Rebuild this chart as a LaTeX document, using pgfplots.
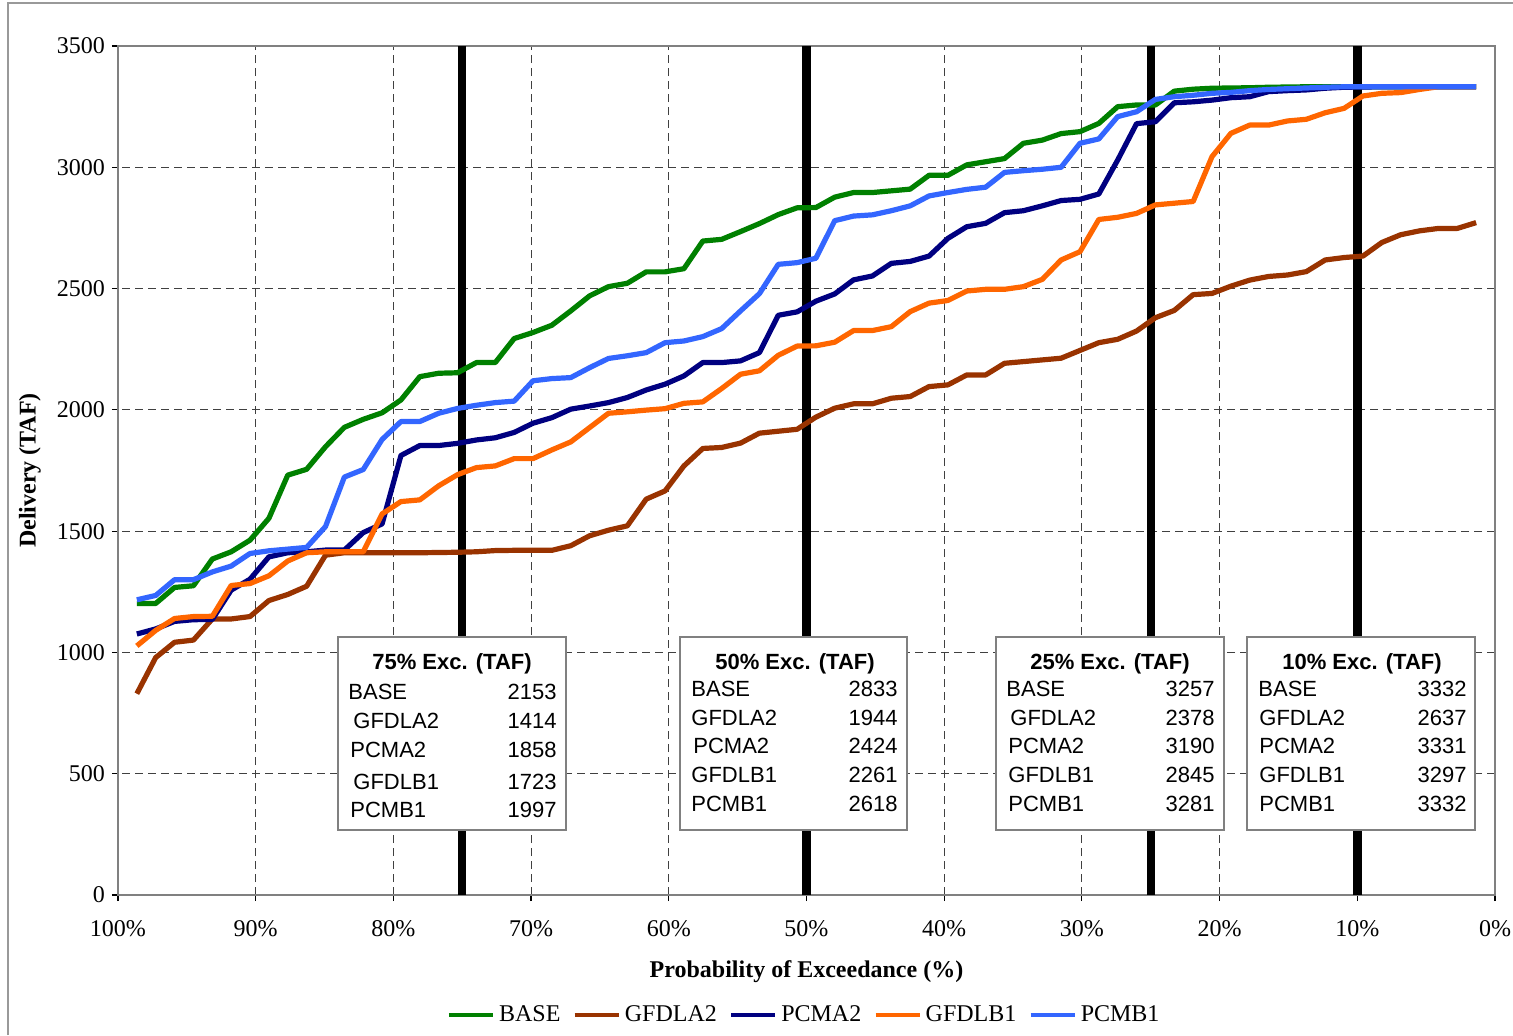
\documentclass[border=0pt]{standalone}
\usepackage{fontspec}
\setmainfont{Liberation Serif}
\newfontfamily\arial{Liberation Sans}
\usepackage{pgfplots}
\usepackage{pgfplotstable}
\pgfplotsset{compat=1.18}
\definecolor{cBase}{HTML}{008000}
\definecolor{cGA}{HTML}{993300}
\definecolor{cPA}{HTML}{000080}
\definecolor{cGB}{HTML}{FF6600}
\definecolor{cPB}{HTML}{3366FF}

\pgfplotstableread{
p base gfdla2 pcma2 gfdlb1 pcmb1
98.63 1202 830 1076 1027 1217
97.26 1202 979 1097 1091 1235
95.89 1268 1042 1128 1140 1300
94.52 1275 1051 1135 1148 1300
93.15 1385 1138 1136 1149 1332
91.78 1415 1138 1257 1276 1356
90.41 1463 1148 1302 1284 1408
89.04 1553 1214 1394 1316 1419
87.67 1731 1239 1411 1377 1426
86.30 1755 1273 1415 1411 1433
84.93 1848 1401 1422 1415 1519
83.56 1928 1411 1422 1415 1723
82.19 1961 1411 1494 1415 1754
80.82 1988 1411 1530 1571 1878
79.45 2041 1411 1812 1622 1952
78.08 2137 1411 1853 1629 1952
76.71 2151 1412 1853 1687 1986
75.34 2153 1413 1862 1733 2006
73.97 2195 1415 1876 1762 2019
72.60 2195 1420 1885 1769 2030
71.23 2294 1421 1907 1799 2036
69.86 2319 1421 1945 1799 2120
68.49 2349 1421 1968 1835 2129
67.12 2408 1440 2003 1868 2133
65.75 2470 1481 2016 1927 2174
64.38 2508 1504 2030 1986 2212
63.01 2522 1522 2051 1992 2223
61.64 2569 1632 2082 1999 2236
60.27 2569 1666 2106 2005 2277
58.90 2582 1769 2140 2027 2284
57.53 2696 1841 2195 2033 2302
56.16 2703 1845 2195 2088 2335
54.79 2735 1863 2202 2147 2408
53.42 2768 1904 2236 2161 2479
52.05 2805 1912 2390 2225 2600
50.68 2833 1920 2404 2263 2607
49.32 2834 1970 2448 2264 2625
47.95 2877 2007 2478 2279 2780
46.58 2896 2025 2536 2327 2799
45.21 2896 2025 2552 2327 2804
43.84 2903 2048 2604 2343 2821
42.47 2910 2055 2612 2405 2841
41.10 2967 2096 2634 2440 2882
39.73 2967 2103 2707 2451 2896
38.36 3010 2144 2755 2490 2909
36.99 3023 2144 2769 2497 2918
35.62 3036 2192 2813 2497 2979
34.25 3099 2199 2821 2508 2986
32.88 3112 2206 2841 2538 2992
31.51 3139 2213 2863 2618 3000
30.14 3147 2245 2868 2652 3099
28.77 3181 2277 2890 2785 3117
27.40 3250 2291 3030 2794 3209
26.03 3257 2325 3180 2810 3229
24.66 3257 2380 3188 2845 3280
23.29 3314 2410 3266 2852 3291
21.92 3322 2475 3270 2859 3297
20.55 3326 2480 3277 3044 3305
19.18 3327 2510 3287 3140 3309
17.81 3328 2535 3291 3174 3316
16.44 3330 2550 3312 3174 3321
15.07 3331 2556 3316 3191 3324
13.70 3332 2570 3319 3198 3327
12.33 3332 2618 3326 3225 3330
10.96 3332 2628 3330 3243 3332
9.59 3332 2634 3331 3294 3332
8.22 3332 2690 3332 3305 3332
6.85 3332 2722 3332 3308 3332
5.48 3332 2738 3332 3321 3332
4.11 3332 2748 3332 3332 3332
2.74 3332 2748 3332 3332 3332
1.37 3332 2772 3332 3332 3332
}\datatab

\newcommand\excrow[5]{%
  \node[anchor=base west] at (#1,#3) {#4};
  \node[anchor=base east] at (#2,#3) {#5};}

\begin{document}
\begin{tikzpicture}
\useasboundingbox (0pt,0pt) rectangle (756.5pt,-517.5pt);
\begin{axis}[
  at={(59pt,-447.5pt)}, anchor=south west,
  width=688.5pt, height=424.5pt, scale only axis,
  xmin=0, xmax=100, x dir=reverse, ymin=0, ymax=3500,
  xtick={0,10,...,100},
  xticklabels={0\%,10\%,20\%,30\%,40\%,50\%,60\%,70\%,80\%,90\%,100\%},
  ytick={0,500,...,3500},
  /pgf/number format/assume math mode=true,
  /pgf/number format/1000 sep={},
  grid=major,
  major grid style={black!75, dash pattern=on 4pt off 2.5pt, line width=0.5pt},
  tick align=outside, tick pos=left, major tick length=3pt,
  axis line style={gray, line width=0.8pt},
  tick style={black, line width=0.6pt},
  ticklabel style={font=\fontsize{12}{14}\selectfont},
  xticklabel style={yshift=-6pt},
  xlabel={\textbf{Probability of Exceedance (\%)}},
  ylabel={\textbf{Delivery (TAF)}},
  label style={font=\fontsize{12}{14}\selectfont},
  xlabel style={at={(axis description cs:0.5,-0.0907)}, anchor=center},
  ylabel style={at={(axis description cs:-0.0639,0.5)}, anchor=center, rotate=0},
  legend style={at={(0.499,-0.141)}, anchor=center, draw=none, fill=none,
    legend columns=5, font=\fontsize{12}{14}\selectfont,
    /tikz/every even column/.append style={column sep=4pt}},
  legend image code/.code={\draw[#1, line width=2.2pt] (0pt,0pt) -- (22pt,0pt);},
  every axis plot/.append style={line width=2.6pt, line join=round, no markers},
]
\addplot[black, line width=4.2pt, forget plot] coordinates {(75,0) (75,3500)};
\addplot[black, line width=4.2pt, forget plot] coordinates {(50,0) (50,3500)};
\addplot[black, line width=4.2pt, forget plot] coordinates {(25,0) (25,3500)};
\addplot[black, line width=4.2pt, forget plot] coordinates {(10,0) (10,3500)};
\addplot[cBase] table[x=p, y=base] {\datatab};
\addlegendentry{BASE}
\addplot[cGA] table[x=p, y=gfdla2] {\datatab};
\addlegendentry{GFDLA2}
\addplot[cPA] table[x=p, y=pcma2] {\datatab};
\addlegendentry{PCMA2}
\addplot[cGB] table[x=p, y=gfdlb1] {\datatab};
\addlegendentry{GFDLB1}
\addplot[cPB] table[x=p, y=pcmb1] {\datatab};
\addlegendentry{PCMB1}
\end{axis}
\begin{scope}[x=0.5pt, y=-0.5pt, every node/.style={inner sep=0pt, font=\arial\fontsize{11}{13}\selectfont}]
\draw[gray!80, line width=0.6pt] (8,1035) -- (8,3) -- (1513,3);
% 75%
\draw[gray, line width=0.9pt, fill=white] (338,637) rectangle (566,830);
\node[anchor=base, font=\arial\bfseries\fontsize{11}{13}\selectfont] at (452,669) {75\% Exc. (TAF)};
\excrow{348}{557}{699}{BASE}{2153}
\excrow{353}{557}{728}{GFDLA2}{1414}
\excrow{350}{557}{757}{PCMA2}{1858}
\excrow{353}{557}{789}{GFDLB1}{1723}
\excrow{350}{557}{817}{PCMB1}{1997}
% 50%
\draw[gray, line width=0.9pt, fill=white] (680,637) rectangle (907,830);
\node[anchor=base, font=\arial\bfseries\fontsize{11}{13}\selectfont] at (795,669) {50\% Exc. (TAF)};
\excrow{691}{898}{696}{BASE}{2833}
\excrow{691}{898}{725}{GFDLA2}{1944}
\excrow{693}{898}{753}{PCMA2}{2424}
\excrow{691}{898}{782}{GFDLB1}{2261}
\excrow{691}{898}{811}{PCMB1}{2618}
% 25%
\draw[gray, line width=0.9pt, fill=white] (996,637) rectangle (1224,830);
\node[anchor=base, font=\arial\bfseries\fontsize{11}{13}\selectfont] at (1110,669) {25\% Exc. (TAF)};
\excrow{1006}{1215}{696}{BASE}{3257}
\excrow{1010}{1215}{725}{GFDLA2}{2378}
\excrow{1008}{1215}{753}{PCMA2}{3190}
\excrow{1008}{1215}{782}{GFDLB1}{2845}
\excrow{1008}{1215}{811}{PCMB1}{3281}
% 10%
\draw[gray, line width=0.9pt, fill=white] (1247,637) rectangle (1475,830);
\node[anchor=base, font=\arial\bfseries\fontsize{11}{13}\selectfont] at (1362,669) {10\% Exc. (TAF)};
\excrow{1258}{1467}{696}{BASE}{3332}
\excrow{1259}{1467}{725}{GFDLA2}{2637}
\excrow{1259}{1467}{753}{PCMA2}{3331}
\excrow{1259}{1467}{782}{GFDLB1}{3297}
\excrow{1259}{1467}{811}{PCMB1}{3332}
\end{scope}
\end{tikzpicture}
\end{document}
